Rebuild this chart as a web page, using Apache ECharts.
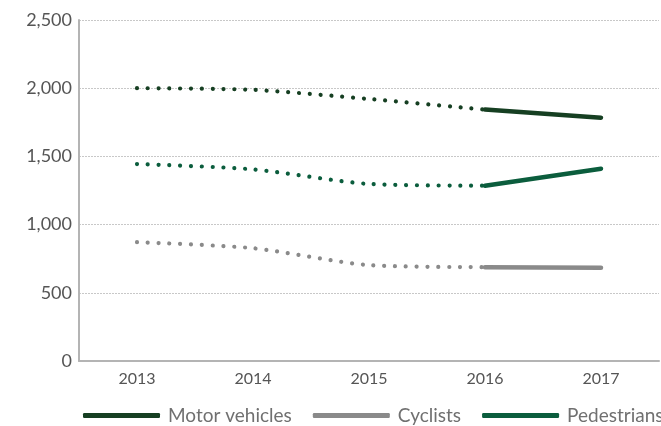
<!DOCTYPE html>
<html>
<head>
<meta charset="utf-8">
<script src="https://cdn.jsdelivr.net/npm/echarts@6/dist/echarts.min.js"></script>
<style>
  html, body { margin: 0; padding: 0; background: #fff; }
  #chart { width: 661px; height: 426px; }
</style>
</head>
<body>
<div id="chart"></div>
<script>
// Years on the horizontal axis
const years = ['2013', '2014', '2015', '2016', '2017'];

// Casualties by road user type
const motorVehicles = [2000, 1988, 1921, 1843, 1784];
const cyclists      = [871, 827, 703, 688, 683];
const pedestrians   = [1444, 1405, 1298, 1285, 1410];

// Index where the recorded series switches from dotted to solid
const solidFrom = 3;

const yTicks = { min: 0, max: 2500, interval: 500 };

const colors = {
  'Motor vehicles': '#163f22',
  'Cyclists': '#8a8a8a',
  'Pedestrians': '#0b5d3d'
};

const FONT = 'Lato, "Open Sans", sans-serif';

function dottedPart(values) {
  return values.map((v, i) => (i <= solidFrom ? v : null));
}
function solidPart(values) {
  return values.map((v, i) => (i >= solidFrom ? v : null));
}

function makeSeries(name, values) {
  const c = colors[name];
  return [
    {
      name: name + ' (dotted)',
      type: 'line',
      data: dottedPart(values),
      symbol: 'none',
      smooth: 0.25,
      silent: true,
      lineStyle: { color: c, width: 4.2, type: [0.01, 10.8], cap: 'round' },
      z: 3
    },
    {
      name: name,
      type: 'line',
      data: solidPart(values),
      symbol: 'none',
      silent: true,
      lineStyle: { color: c, width: 4.5, cap: 'round' },
      itemStyle: { color: c },
      z: 4
    }
  ];
}

const chart = echarts.init(document.getElementById('chart'), null, { renderer: 'canvas' });

chart.setOption({
  animation: false,
  textStyle: { fontFamily: FONT },
  grid: { left: 79, right: 2, top: 20, bottom: 65, containLabel: false },
  legend: {
    left: 78,
    top: 401,
    width: 900,
    itemWidth: 77,
    itemHeight: 5,
    itemGap: 21,
    icon: 'roundRect',
    textStyle: { fontSize: 19, color: '#707070', fontFamily: FONT, padding: [0, 0, 0, 3] },
    data: ['Motor vehicles', 'Cyclists', 'Pedestrians']
  },
  xAxis: {
    type: 'category',
    data: years,
    boundaryGap: true,
    axisLine: { lineStyle: { color: '#b4b4b4', width: 2 } },
    axisTick: { show: false },
    axisLabel: { color: '#555', fontSize: 16, margin: 10, fontFamily: FONT },
    splitLine: { show: false }
  },
  yAxis: {
    type: 'value',
    min: yTicks.min,
    max: yTicks.max,
    interval: yTicks.interval,
    axisLine: { show: true, lineStyle: { color: '#b4b4b4', width: 2 } },
    axisTick: { show: false },
    axisLabel: {
      color: '#555',
      fontSize: 18,
      margin: 7,
      fontFamily: FONT,
      formatter: v => v.toLocaleString('en-US')
    },
    splitLine: { lineStyle: { color: '#c8c8c8', width: 1, type: [2, 1] } }
  },
  series: [
    ...makeSeries('Motor vehicles', motorVehicles),
    ...makeSeries('Cyclists', cyclists),
    ...makeSeries('Pedestrians', pedestrians)
  ]
});
</script>
</body>
</html>
